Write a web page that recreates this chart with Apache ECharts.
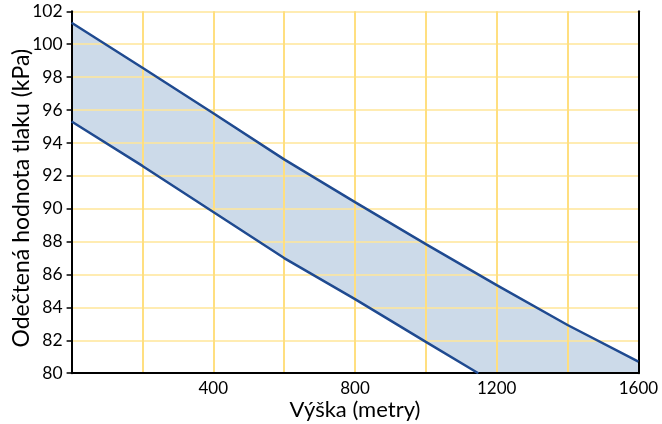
<!DOCTYPE html>
<html>
<head>
<meta charset="utf-8">
<script src="https://cdn.jsdelivr.net/npm/echarts@6/dist/echarts.min.js"></script>
<style>
  html, body { margin: 0; padding: 0; background: #fff; }
  #chart { width: 662px; height: 424px; }
</style>
</head>
<body>
<div id="chart"></div>
<script>
// Altitude (m) and pressure (kPa) along the upper edge of the band
const upperAltitude = [0, 200, 400, 600, 800, 1000, 1200, 1400, 1600];
const upperPressure = [101.3, 98.57, 95.8, 93.0, 90.4, 87.85, 85.35, 82.93, 80.7];

// Lower edge of the band; it reaches the axis floor (80 kPa) near 1148 m
const lowerAltitude = [0, 200, 400, 600, 800, 1000, 1148];
const lowerPressure = [95.3, 92.6, 89.8, 87.0, 84.5, 81.9, 80.0];

const xTitle = 'Výška (metry)';
const yTitle = 'Odečtená hodnota tlaku (kPa)';

const X_MIN = 0, X_MAX = 1600, X_STEP = 200;
const Y_MIN = 80, Y_MAX = 102, Y_STEP = 2;

const FONT = 'Lato';
const LINE_COLOR = '#1F4A90';
const FILL_COLOR = '#CCDAE9';

const pairs = (xs, ys) => xs.map((x, i) => [x, ys[i]]);
const upperData = pairs(upperAltitude, upperPressure);
const lowerData = pairs(lowerAltitude, lowerPressure);

const chart = echarts.init(document.getElementById('chart'), null, { renderer: 'canvas' });

chart.setOption({
  animation: false,
  backgroundColor: '#ffffff',
  grid: {
    left: 71.6, right: 23.6, top: 11.3, bottom: 50.8,
    containLabel: false,
    outerBoundsMode: 'none'
  },
  xAxis: {
    type: 'value',
    min: X_MIN, max: X_MAX, interval: X_STEP,
    z: 3,
    name: xTitle,
    nameLocation: 'middle',
    nameGap: 26,
    nameMoveOverlap: false,
    nameTextStyle: { fontFamily: FONT, fontSize: 22, color: '#000' },
    axisLine: { show: true, onZero: false, lineStyle: { color: '#000', width: 2 } },
    axisTick: { show: false },
    axisLabel: {
      margin: 7,
      fontFamily: FONT, fontSize: 17, color: '#000',
      showMinLabel: true, showMaxLabel: true,
      formatter: v => (v > 0 && v % 400 === 0) ? String(v) : ''
    },
    splitLine: { show: true, lineStyle: { color: '#FFDF80', width: 2 } }
  },
  yAxis: [{
    type: 'value',
    min: Y_MIN, max: Y_MAX, interval: Y_STEP,
    z: 3,
    name: yTitle,
    nameLocation: 'middle',
    nameGap: 39,
    nameMoveOverlap: false,
    nameRotate: 90,
    nameTextStyle: { fontFamily: FONT, fontSize: 23, color: '#000', padding: [0, 12, 0, 0] },
    axisLine: { show: true, onZero: false, lineStyle: { color: '#000', width: 2 } },
    axisTick: { show: true, inside: false, length: 5, lineStyle: { color: '#000', width: 1.5 } },
    axisLabel: { margin: 9, fontFamily: FONT, fontSize: 17.5, color: '#000' },
    splitLine: { show: true, lineStyle: { color: '#FFE699', width: 1.5 } }
  }, {
    // right-hand frame line of the plot
    type: 'value',
    position: 'right',
    min: Y_MIN, max: Y_MAX, interval: Y_STEP,
    z: 3,
    axisLine: { show: true, onZero: false, lineStyle: { color: '#000', width: 2 } },
    axisTick: { show: false },
    axisLabel: { show: false },
    splitLine: { show: false }
  }],
  series: [
    {
      // shaded band between the two edges, closed along the 80 kPa floor
      type: 'custom',
      z: 1,
      clip: true,
      silent: true,
      data: [0],
      renderItem: (params, api) => {
        const pts = [];
        upperData.forEach(p => pts.push(api.coord(p)));
        pts.push(api.coord([X_MAX, Y_MIN]));
        for (let i = lowerData.length - 1; i >= 0; i--) pts.push(api.coord(lowerData[i]));
        return {
          type: 'polygon',
          shape: { points: pts },
          style: { fill: FILL_COLOR, stroke: null }
        };
      }
    },
    {
      type: 'line',
      z: 5,
      data: upperData,
      symbol: 'none',
      clip: true,
      lineStyle: { color: LINE_COLOR, width: 2.5 }
    },
    {
      type: 'line',
      z: 5,
      data: lowerData,
      symbol: 'none',
      clip: true,
      lineStyle: { color: LINE_COLOR, width: 2.5 }
    }
  ]
});
</script>
</body>
</html>
